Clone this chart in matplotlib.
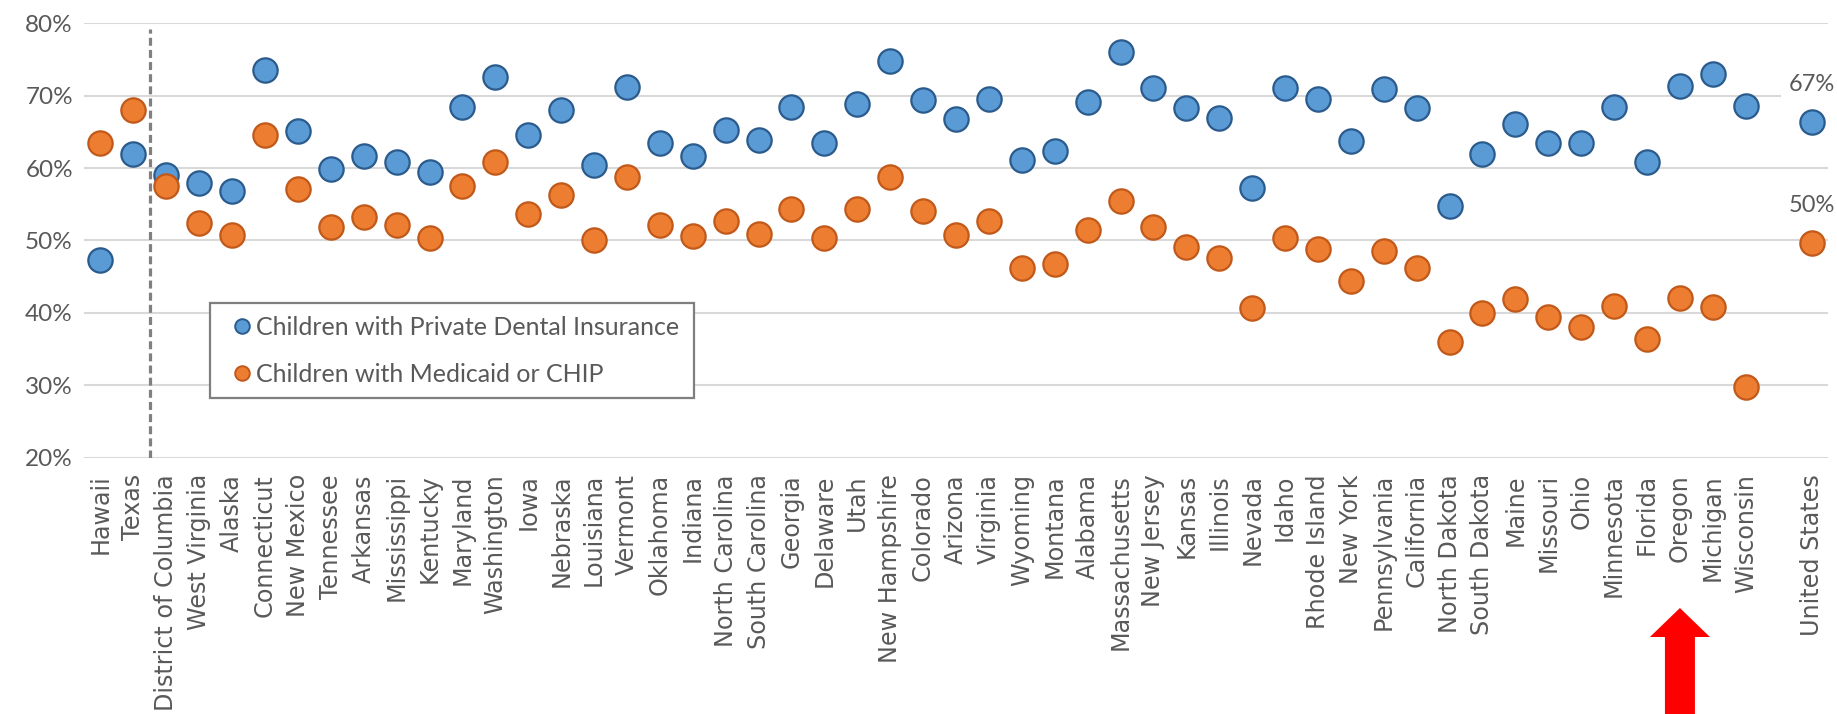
import matplotlib
matplotlib.use("Agg")
import matplotlib.pyplot as plt
from matplotlib.patches import Polygon, Rectangle
from matplotlib.lines import Line2D
from matplotlib.ticker import FuncFormatter, MultipleLocator
from matplotlib.transforms import IdentityTransform

# ---------------- data ----------------
states = ["Hawaii", "Texas", "District of Columbia", "West Virginia", "Alaska",
          "Connecticut", "New Mexico", "Tennessee", "Arkansas", "Mississippi",
          "Kentucky", "Maryland", "Washington", "Iowa", "Nebraska", "Louisiana",
          "Vermont", "Oklahoma", "Indiana", "North Carolina", "South Carolina",
          "Georgia", "Delaware", "Utah", "New Hampshire", "Colorado", "Arizona",
          "Virginia", "Wyoming", "Montana", "Alabama", "Massachusetts",
          "New Jersey", "Kansas", "Illinois", "Nevada", "Idaho", "Rhode Island",
          "New York", "Pennsylvania", "California", "North Dakota",
          "South Dakota", "Maine", "Missouri", "Ohio", "Minnesota", "Florida",
          "Oregon", "Michigan", "Wisconsin"]

private = [47.3, 62.0, 59.1, 58.0, 56.8, 73.5, 65.1, 59.9, 61.6, 60.9,
           59.4, 68.4, 72.6, 64.5, 68.0, 60.4, 71.2, 63.4, 61.6, 65.3,
           63.9, 68.4, 63.5, 68.8, 74.8, 69.4, 66.8, 69.6, 61.1, 62.4,
           69.1, 76.0, 71.0, 68.3, 66.9, 57.3, 71.0, 69.6, 63.7, 70.9,
           68.3, 54.7, 62.0, 66.1, 63.4, 63.4, 68.4, 60.9, 71.4, 73.0,
           68.6]

medicaid = [63.5, 68.0, 57.5, 52.4, 50.8, 64.5, 57.1, 51.9, 53.2, 52.1,
            50.3, 57.5, 60.9, 53.6, 56.3, 50.0, 58.8, 52.1, 50.6, 52.7,
            50.9, 54.3, 50.3, 54.3, 58.8, 54.0, 50.8, 52.7, 46.2, 46.8,
            51.4, 55.5, 51.9, 49.1, 47.6, 40.6, 50.3, 48.8, 44.4, 48.6,
            46.2, 35.9, 40.0, 41.9, 39.4, 38.0, 41.0, 36.4, 42.1, 40.8,
            29.7]

us_label = "United States"
us_private = 66.4
us_medicaid = 49.6
us_private_text = "67%"
us_medicaid_text = "50%"

series_names = ["Children with Private Dental Insurance",
                "Children with Medicaid or CHIP"]
highlight_state = "Oregon"

# ---------------- layout ----------------
W, H = 1837, 714
fig = plt.figure(figsize=(W / 100, H / 100), dpi=100)
ax = fig.add_axes([84 / W, 1 - 457.5 / H, (1828 - 84) / W, (457.5 - 23.3) / H])

labels = states + ["", us_label]
n = len(labels)
xs = list(range(len(states)))
x_us = n - 1

BLUE, BLUE_E = "#5B9BD5", "#2A5B8C"
ORANGE, ORANGE_E = "#ED7D31", "#C0591A"
GRAY_TXT = "#595959"

mk = dict(linestyle="none", marker="o", markersize=17.5, markeredgewidth=1.6, zorder=3)
ax.plot(xs, private, markerfacecolor=BLUE, markeredgecolor=BLUE_E, **mk)
ax.plot(xs, medicaid, markerfacecolor=ORANGE, markeredgecolor=ORANGE_E, **mk)
ax.plot([x_us], [us_private], markerfacecolor=BLUE, markeredgecolor=BLUE_E, **mk)
ax.plot([x_us], [us_medicaid], markerfacecolor=ORANGE, markeredgecolor=ORANGE_E, **mk)

for val, txt in [(us_private, us_private_text), (us_medicaid, us_medicaid_text)]:
    ax.annotate(txt, xy=(x_us, val), xytext=(0, 27), textcoords="offset points",
                ha="center", va="center", fontsize=17, family="Lato", color=GRAY_TXT,
                bbox=dict(boxstyle="square,pad=0.3", fc="white", ec="none"), zorder=2.5)

# dashed separator between Texas and DC
ax.plot([1.5, 1.5], [20, 79.2], color="#808080", lw=2.3,
        linestyle=(0, (2.5, 1.3)), zorder=2)

ax.set_xlim(-0.5, n - 0.5)
ax.set_ylim(20, 80)
ax.yaxis.set_major_locator(MultipleLocator(10))
ax.yaxis.set_major_formatter(FuncFormatter(lambda v, p: f"{v:.0f}%"))
ax.grid(axis="y", color="#D9D9D9", lw=1.5, zorder=0)
ax.set_axisbelow(True)
for s in ax.spines.values():
    s.set_visible(False)

ax.set_xticks(range(n))
ax.set_xticklabels(labels, rotation=90, ha="center", va="top",
                   fontsize=17.2, family="DejaVu Sans", color=GRAY_TXT)
ax.tick_params(axis="x", length=0, pad=12)
ax.tick_params(axis="y", length=0, pad=8, labelsize=17.5, labelcolor=GRAY_TXT)
for t in ax.get_yticklabels():
    t.set_family("Lato")

# legend (frameless, with a drawn box)
fs_leg = 18
fs_px = fs_leg * 100 / 72
hl = 0.6
handles = [Line2D([], [], linestyle="none", marker="o", markersize=10.5,
                  markerfacecolor=BLUE, markeredgecolor=BLUE_E, markeredgewidth=1.4),
           Line2D([], [], linestyle="none", marker="o", markersize=10.5,
                  markerfacecolor=ORANGE, markeredgecolor=ORANGE_E, markeredgewidth=1.4)]
anchor_x_px = 241.7 - hl * fs_px / 2
anchor_y_px = 316.0
leg = ax.legend(handles, series_names, loc="upper left",
                bbox_to_anchor=(anchor_x_px, H - anchor_y_px),
                bbox_transform=IdentityTransform(),
                borderaxespad=0, frameon=False,
                prop=dict(family="Lato", size=fs_leg), labelcolor=GRAY_TXT,
                handlelength=hl, handletextpad=(256 - 241.7 - hl * fs_px / 2) / fs_px,
                borderpad=0, labelspacing=0.94)
box = Rectangle((210, H - 398), 694 - 210, 398 - 303, transform=IdentityTransform(),
                facecolor="white", edgecolor="#7F7F7F", linewidth=1.6, zorder=4)
ax.add_artist(box)
leg.set_zorder(5)

# red arrow under highlighted state
xi = states.index(highlight_state)
xc = ax.transData.transform((xi, 50))[0]
pts = [(xc, H - 608), (xc + 30, H - 637), (xc + 15, H - 637), (xc + 15, -5),
       (xc - 15, -5), (xc - 15, H - 637), (xc - 30, H - 637)]
arrow = Polygon(pts, closed=True, facecolor="#FF0000", edgecolor="none",
                transform=IdentityTransform())
fig.add_artist(arrow)

fig.savefig("out.png", dpi=100)
